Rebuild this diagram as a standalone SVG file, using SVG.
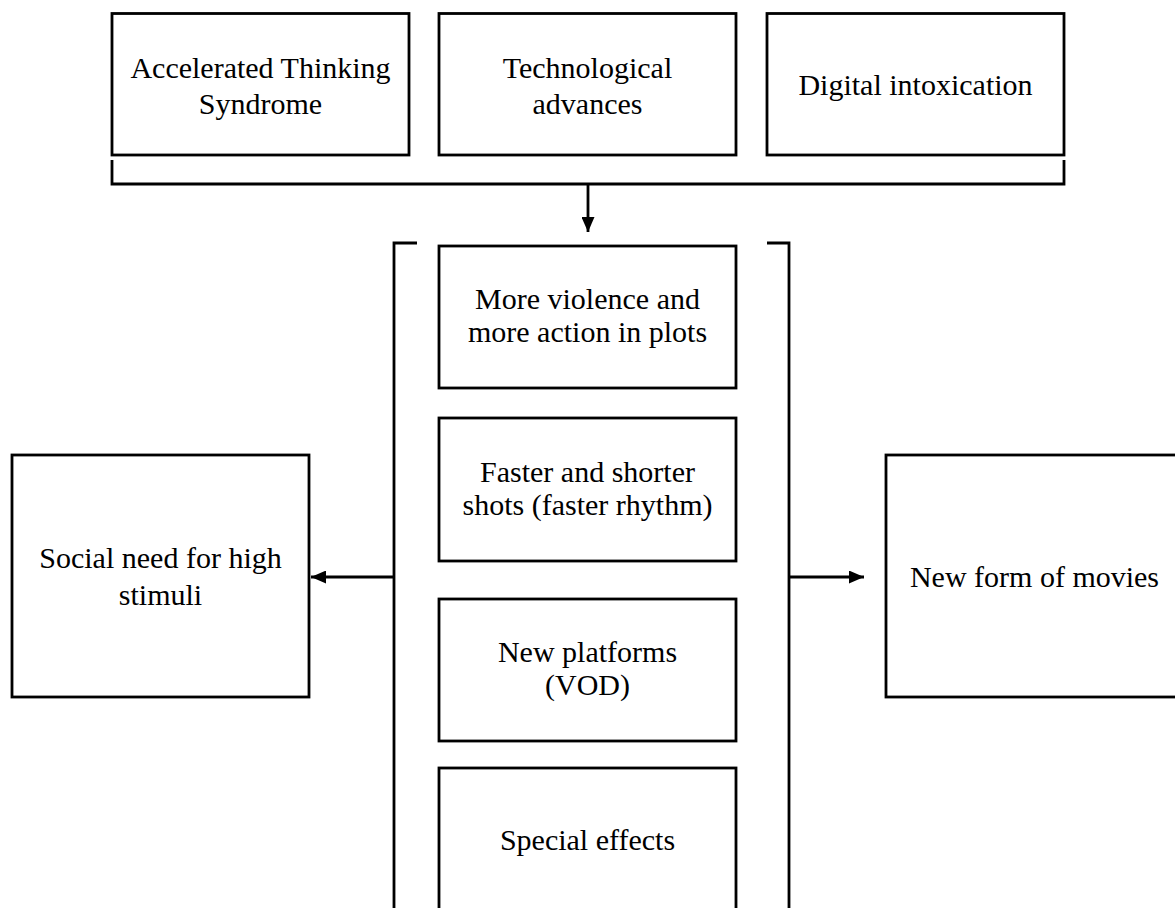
<svg xmlns="http://www.w3.org/2000/svg" width="1175" height="908" viewBox="0 0 1175 908">
<style>
.box{fill:#fff;stroke:#000;stroke-width:2.8}
.ln{fill:none;stroke:#000;stroke-width:2.8}
text{font-family:"Liberation Serif","Times New Roman",serif;font-size:30px;fill:#000;text-anchor:middle}
</style>
<defs>
<marker id="ah" markerWidth="16" markerHeight="13" refX="15" refY="6.5" orient="auto" markerUnits="userSpaceOnUse">
<path d="M0,0 L15,6.5 L0,13 Z" fill="#000"/>
</marker>
</defs>
<rect width="1175" height="908" fill="#fff"/>
<g id="n-ats"><rect class="box" x="112" y="13.5" width="297" height="141.5"/><text x="260.5" y="78">Accelerated Thinking</text><text x="260.5" y="114">Syndrome</text></g>
<g id="n-tech"><rect class="box" x="439" y="13.5" width="297" height="141.5"/><text x="587.5" y="78">Technological</text><text x="587.5" y="114">advances</text></g>
<g id="n-digital"><rect class="box" x="767" y="13.5" width="297" height="141.5"/><text x="915.5" y="95">Digital intoxication</text></g>
<g id="n-violence"><rect class="box" x="439" y="246" width="297" height="142"/><text x="587.5" y="309">More violence and</text><text x="587.5" y="342">more action in plots</text></g>
<g id="n-faster"><rect class="box" x="439" y="418" width="297" height="143"/><text x="587.5" y="482">Faster and shorter</text><text x="587.5" y="515">shots (faster rhythm)</text></g>
<g id="n-platforms"><rect class="box" x="439" y="599" width="297" height="142"/><text x="587.5" y="662">New platforms</text><text x="587.5" y="695">(VOD)</text></g>
<g id="n-effects"><rect class="box" x="439" y="768" width="297" height="150"/><text x="587.5" y="850">Special effects</text></g>
<g id="n-social"><rect class="box" x="12" y="455" width="297" height="242"/><text x="160.5" y="568">Social need for high</text><text x="160.5" y="605">stimuli</text></g>
<g id="n-movies"><rect class="box" x="886" y="455" width="297" height="242"/><text x="1034.5" y="587">New form of movies</text></g>
<g id="connectors">
<path class="ln" d="M112,160 V184 H1064 V160"/>
<line class="ln" x1="588" y1="184" x2="588" y2="232" marker-end="url(#ah)"/>
<path class="ln" d="M417,243 H394 V908"/>
<path class="ln" d="M767,243 H789 V908"/>
<line class="ln" x1="394" y1="577" x2="311" y2="577" marker-end="url(#ah)"/>
<line class="ln" x1="789" y1="577" x2="864" y2="577" marker-end="url(#ah)"/>
</g>
</svg>
